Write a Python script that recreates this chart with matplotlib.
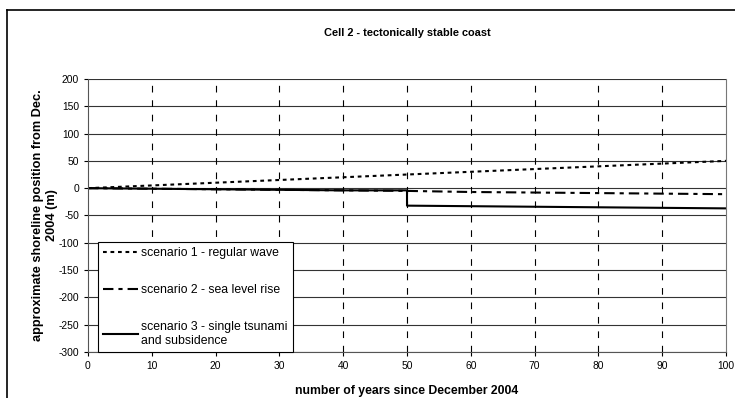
import matplotlib.pyplot as plt
from matplotlib.lines import Line2D

plt.rcParams['font.family'] = ['Liberation Sans', 'DejaVu Sans']
plt.rcParams['axes.unicode_minus'] = False

# --- Data ---
years = [0, 10, 20, 30, 40, 50, 60, 70, 80, 90, 100]
scen1 = [0, 5, 10, 15, 20, 25, 30, 35, 40, 45, 50]
scen2 = [0, -1, -2, -3, -4, -5, -7, -8, -9, -10, -11]
years3 = [0, 10, 20, 30, 40, 50, 50, 60, 70, 80, 90, 100]
scen3 = [0, -1, -2, -3, -4, -4, -32, -33, -34, -35, -36, -37]

labels = ['scenario 1 - regular wave',
          'scenario 2 - sea level rise',
          'scenario 3 - single tsunami\nand subsidence']
xticks = list(range(0, 101, 10))
yticks = list(range(-300, 201, 50))

fig = plt.figure(figsize=(7.35, 3.98), dpi=100)
ax = fig.add_axes([0.1197, 0.1156, 0.8681, 0.686])

# frame around the figure (top and left edges visible)
fig.add_artist(Line2D([0.0095, 1.0], [0.975, 0.975], color='black', lw=1.2))
fig.add_artist(Line2D([0.0095, 0.0095], [0.0, 0.975], color='black', lw=1.2))

ax.plot(years, scen1, color='black', lw=1.5, linestyle=(0, (1.8, 1.8)), label=labels[0])
ax.plot(years, scen2, color='black', lw=1.5, linestyle=(0, (5, 2.4, 2, 2.4)), label=labels[1])
ax.plot(years3, scen3, color='black', lw=1.5, label=labels[2])

ax.set_xlim(0, 100)
ax.set_ylim(-300, 200)
ax.set_xticks(xticks)
ax.set_yticks(yticks)
ax.tick_params(labelsize=7.4, direction='out', length=3, width=0.8, colors='black')

for y in yticks:
    ax.axhline(y, color='#333333', lw=0.8, zorder=0)
for x in xticks[1:-1]:
    ax.axvline(x, color='black', lw=0.8, linestyle=(0, (6, 7)), zorder=0)

ax.spines['top'].set_visible(False)
ax.spines['right'].set_color('#777777')
ax.spines['left'].set_color('#555555')
ax.spines['bottom'].set_color('#555555')

ax.set_title('Cell 2 - tectonically stable coast', fontsize=7.9, fontweight='bold', pad=31)
ax.set_xlabel('number of years since December 2004', fontsize=8.8, fontweight='bold', labelpad=10)
ax.set_ylabel('approximate shoreline position from Dec.\n2004 (m)', fontsize=9.2,
              fontweight='bold')
ax.yaxis.set_label_coords(-0.047, 0.5)

leg = ax.legend(loc='upper left', bbox_to_anchor=(0.0157, 0.403), borderaxespad=0,
                fontsize=8.8, frameon=True, fancybox=False, edgecolor='black',
                framealpha=1, handlelength=2.9, handletextpad=0.25, labelspacing=2.05,
                borderpad=0.4)
leg.get_frame().set_linewidth(0.8)
leg.set_zorder(5)

fig.savefig('out.png', dpi=100)
